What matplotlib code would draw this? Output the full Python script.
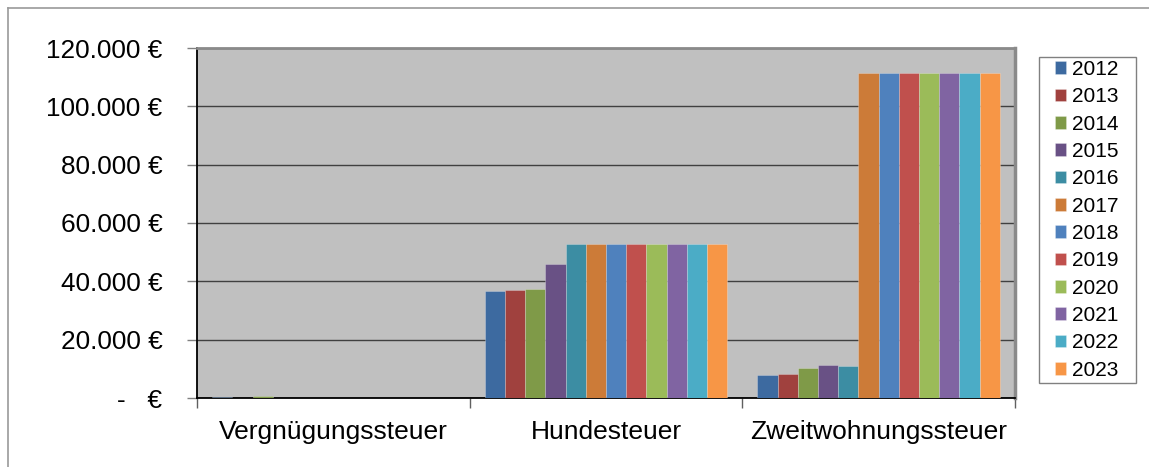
import numpy as np
import matplotlib.pyplot as plt
from matplotlib.lines import Line2D
from matplotlib.patches import Rectangle
from matplotlib.ticker import FuncFormatter

plt.rcParams['font.family'] = ['Liberation Sans', 'DejaVu Sans']

# data
categories = ["Vergnügungssteuer", "Hundesteuer", "Zweitwohnungssteuer"]
years = ["2012", "2013", "2014", "2015", "2016", "2017",
         "2018", "2019", "2020", "2021", "2022", "2023"]
vergnuegung = [300, 0, 800, 150, 150, 150, 150, 150, 150, 150, 150, 150]
hunde = [36700, 37100, 37500, 46000, 52800, 52800, 52800, 52800, 52800, 52800, 52800, 52800]
zweitwohnung = [7900, 8200, 10400, 11300, 11000, 111500, 111500, 111500, 111500, 111500, 111500, 111500]

colors = ["#3d6aa0", "#a0413e", "#7f9a48", "#695185", "#3c8da3", "#cc7b38",
          "#4f81bd", "#c0504d", "#9bbb59", "#8064a2", "#4bacc6", "#f79646"]

values = np.array([vergnuegung, hunde, zweitwohnung])  # shape (3, 12)

W, H = 1149, 467
fig = plt.figure(figsize=(W / 100, H / 100), dpi=100)

# outer chart border (only top/left visible)
fig.add_artist(Line2D([8 / W, 1.0], [1 - 8 / H, 1 - 8 / H], transform=fig.transFigure, color="#9a9a9a", lw=1.2))
fig.add_artist(Line2D([8 / W, 8 / W], [0, 1 - 8 / H], transform=fig.transFigure, color="#9a9a9a", lw=1.2))

left, right, top, bottom = 197, 1015, 48, 398
ax = fig.add_axes([left / W, (H - bottom) / H, (right - left) / W, (bottom - top) / H])
ax.set_facecolor("#c0c0c0")

n = len(years)
bw = 1.0 / (n + 1.5)
x = np.arange(len(categories))
for i, (yr, c) in enumerate(zip(years, colors)):
    ax.bar(x + (i - (n - 1) / 2) * bw, values[:, i], width=bw, color=c,
           edgecolor=(1, 1, 1, 0.25), linewidth=0.7, label=yr, zorder=3)

ax.set_xlim(-0.5, 2.5)
ax.set_ylim(0, 120000)
ax.set_yticks(np.arange(0, 120001, 20000))


def euro(v, pos):
    if v == 0:
        return "-   €"
    return f"{int(v):,} €".replace(",", ".")


ax.yaxis.set_major_formatter(FuncFormatter(euro))
ax.yaxis.grid(True, color="#404040", linewidth=1.0, zorder=1)
ax.set_axisbelow(True)

ax.set_xticks(x)
ax.set_xticklabels(categories)
ax.set_xticks([-0.5, 0.5, 1.5, 2.5], minor=True)
ax.tick_params(axis="x", which="major", length=0, pad=16, labelsize=19)
ax.tick_params(axis="x", which="minor", length=7, width=1, color="#606060", direction="out")
ax.tick_params(axis="y", length=7, width=1, color="#808080", pad=18, labelsize=18.8)

ax.spines["left"].set_color("black")
ax.spines["bottom"].set_color("black")
ax.spines["left"].set_linewidth(1.3)
ax.spines["bottom"].set_linewidth(1.3)
ax.spines["top"].set_color("#8a8a8a")
ax.spines["top"].set_linewidth(2)
ax.spines["right"].set_color("#8a8a8a")
ax.spines["right"].set_linewidth(2.5)

# legend box drawn separately so its padding matches the original
fig.add_artist(Rectangle((1039 / W, 1 - 383 / H), 97 / W, 326 / H, transform=fig.transFigure,
                         facecolor="white", edgecolor="#808080", linewidth=1.0))
leg = fig.legend(loc="upper left", bbox_to_anchor=(1055 / W, 1 - 60 / H),
                 fontsize=15, frameon=False, borderpad=0,
                 handlelength=0.55, handleheight=0.55, handletextpad=0.25,
                 labelspacing=0.4, borderaxespad=0)

fig.savefig("out.png", dpi=100)
